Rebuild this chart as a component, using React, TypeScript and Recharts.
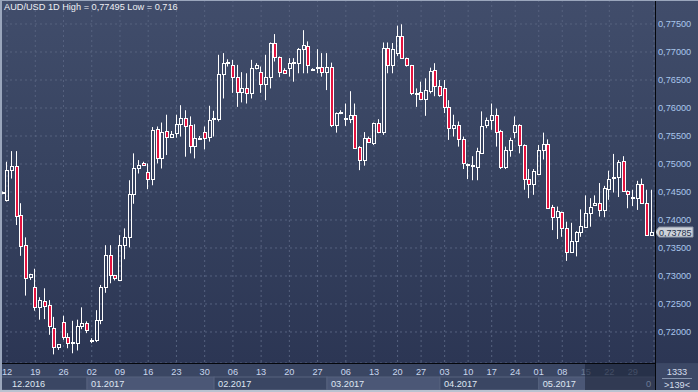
import React from "react";
import { ComposedChart, Bar, Line, XAxis, YAxis, CartesianGrid, ReferenceLine } from "recharts";

// daily candles, AUD/USD, 139 bars visible
const OPEN = [
  0.7448, 0.7436, 0.7489, 0.7496, 0.7409, 0.7355, 0.7298, 0.728, 0.7245, 0.7255,
  0.7248, 0.7208, 0.7174, 0.7217, 0.7191, 0.7181, 0.7181, 0.721, 0.7216, 0.7184,
  0.7185, 0.7221, 0.728, 0.7337, 0.7301, 0.7292, 0.7355, 0.7369, 0.7446, 0.7492,
  0.7502, 0.7485, 0.7474, 0.7562, 0.751, 0.7559, 0.7549, 0.7556, 0.7571, 0.7582,
  0.757, 0.7533, 0.7546, 0.7557, 0.7549, 0.758, 0.7581, 0.766, 0.768, 0.7676,
  0.7656, 0.7629, 0.7635, 0.7626, 0.7672, 0.7664, 0.7643, 0.7655, 0.7716, 0.7691,
  0.7668, 0.7671, 0.7681, 0.7681, 0.7705, 0.7711, 0.7669, 0.7672, 0.7674, 0.7664,
  0.7673, 0.7569, 0.7591, 0.7583, 0.7581, 0.7587, 0.7531, 0.7507, 0.7546, 0.7537,
  0.7573, 0.7558, 0.7707, 0.7676, 0.7698, 0.7729, 0.7689, 0.7676, 0.7625, 0.7628,
  0.7616, 0.7631, 0.7667, 0.7639, 0.7635, 0.7602, 0.7564, 0.757, 0.7544, 0.7499,
  0.7499, 0.7495, 0.7519, 0.7569, 0.7579, 0.7588, 0.7559, 0.7495, 0.7525, 0.7558,
  0.757, 0.7534, 0.7474, 0.7464, 0.7482, 0.7525, 0.7536, 0.7424, 0.7406, 0.7414,
  0.7385, 0.7342, 0.7363, 0.7378, 0.7388, 0.7412, 0.7426, 0.7431, 0.7418, 0.7455,
  0.7476, 0.7477, 0.7505, 0.7452, 0.7441, 0.7439, 0.7464, 0.743, 0.7374,
];
const HIGH = [
  0.7451, 0.7504, 0.7523, 0.7523, 0.743, 0.7369, 0.7304, 0.7313, 0.7262, 0.7278,
  0.7257, 0.7227, 0.7178, 0.7229, 0.7198, 0.722, 0.7222, 0.7244, 0.7219, 0.7189,
  0.7239, 0.7284, 0.7355, 0.7355, 0.7302, 0.7373, 0.7385, 0.7471, 0.7519, 0.7507,
  0.7504, 0.7501, 0.7566, 0.7567, 0.7574, 0.7588, 0.7559, 0.7588, 0.7605, 0.7596,
  0.7585, 0.7571, 0.755, 0.7567, 0.7604, 0.7595, 0.7695, 0.7698, 0.7687, 0.7686,
  0.7677, 0.7664, 0.7662, 0.7686, 0.768, 0.7674, 0.7695, 0.7717, 0.7732, 0.7692,
  0.7671, 0.7689, 0.7689, 0.7707, 0.7739, 0.7719, 0.7671, 0.7705, 0.7698, 0.7698,
  0.7681, 0.7592, 0.7596, 0.7608, 0.763, 0.7608, 0.7532, 0.7557, 0.7549, 0.7574,
  0.758, 0.7717, 0.7717, 0.7716, 0.7747, 0.77495, 0.769, 0.7677, 0.7635, 0.7647,
  0.7653, 0.7672, 0.768, 0.765, 0.765, 0.7614, 0.7588, 0.7576, 0.7549, 0.7501,
  0.7514, 0.7529, 0.7594, 0.7583, 0.7608, 0.7599, 0.7561, 0.7531, 0.7547, 0.7585,
  0.7571, 0.7535, 0.7491, 0.7491, 0.7534, 0.7556, 0.7544, 0.7427, 0.7424, 0.7415,
  0.7397, 0.7395, 0.738, 0.7419, 0.7444, 0.7439, 0.7444, 0.7466, 0.7461, 0.7488,
  0.7518, 0.7507, 0.7514, 0.7453, 0.7454, 0.747, 0.7474, 0.7454, 0.7454,
];
const LOW = [
  0.7446, 0.7433, 0.7474, 0.7391, 0.7336, 0.7265, 0.7293, 0.7238, 0.7222, 0.7223,
  0.7195, 0.716, 0.7168, 0.7186, 0.7171, 0.7162, 0.7167, 0.7205, 0.7198, 0.718,
  0.7182, 0.7214, 0.727, 0.7287, 0.7292, 0.7291, 0.733, 0.7351, 0.7429, 0.7483,
  0.7497, 0.7455, 0.7462, 0.7501, 0.7492, 0.7516, 0.7548, 0.7547, 0.7549, 0.7513,
  0.7519, 0.751, 0.7543, 0.7526, 0.754, 0.7549, 0.7576, 0.7617, 0.7674, 0.7627,
  0.7602, 0.761, 0.7608, 0.7617, 0.7669, 0.7627, 0.7614, 0.7635, 0.7683, 0.7655,
  0.7662, 0.7656, 0.7647, 0.7662, 0.7662, 0.7662, 0.7668, 0.7662, 0.7656, 0.7632,
  0.7566, 0.7556, 0.7589, 0.7568, 0.7573, 0.7528, 0.7489, 0.7497, 0.7538, 0.7534,
  0.7555, 0.7552, 0.7662, 0.7662, 0.7693, 0.7689, 0.7674, 0.7623, 0.7602, 0.7614,
  0.7586, 0.7626, 0.7621, 0.762, 0.7591, 0.7543, 0.7549, 0.7531, 0.7491, 0.7473,
  0.7471, 0.7471, 0.7519, 0.7564, 0.7561, 0.7531, 0.7491, 0.7491, 0.7513, 0.7546,
  0.7519, 0.7454, 0.7439, 0.7445, 0.7481, 0.7508, 0.7421, 0.7382, 0.7366, 0.737,
  0.7327, 0.7341, 0.7335, 0.737, 0.7387, 0.7388, 0.7425, 0.7406, 0.7405, 0.7436,
  0.7449, 0.7441, 0.7451, 0.7421, 0.7425, 0.7418, 0.7429, 0.7372, 0.7372,
];
const CLOSE = [
  0.745, 0.7489, 0.7496, 0.7408, 0.7354, 0.7296, 0.7304, 0.7245, 0.7257, 0.7247,
  0.721, 0.7174, 0.7178, 0.7191, 0.718, 0.7182, 0.721, 0.7216, 0.7204, 0.7185,
  0.7221, 0.728, 0.7337, 0.7301, 0.7296, 0.7355, 0.7369, 0.7446, 0.7492, 0.7498,
  0.7498, 0.7473, 0.756, 0.751, 0.7558, 0.7549, 0.7554, 0.7571, 0.7582, 0.7568,
  0.7533, 0.7546, 0.7547, 0.7547, 0.7579, 0.7582, 0.766, 0.7681, 0.7682, 0.7656,
  0.7629, 0.7635, 0.7626, 0.7672, 0.7677, 0.7643, 0.7655, 0.7716, 0.7691, 0.7665,
  0.7663, 0.7681, 0.7682, 0.7705, 0.7713, 0.7677, 0.767, 0.7674, 0.7664, 0.7674,
  0.7569, 0.7591, 0.7593, 0.7582, 0.7588, 0.7529, 0.7507, 0.7546, 0.754, 0.7574,
  0.7558, 0.7707, 0.7676, 0.7705, 0.7729, 0.7689, 0.7676, 0.7626, 0.7627, 0.7616,
  0.7632, 0.7666, 0.7639, 0.7623, 0.7602, 0.7564, 0.757, 0.7544, 0.7502, 0.75,
  0.7498, 0.7523, 0.7568, 0.7579, 0.7588, 0.7558, 0.7495, 0.7525, 0.7543, 0.757,
  0.7534, 0.7474, 0.7464, 0.7488, 0.7525, 0.7536, 0.7422, 0.7406, 0.7416, 0.7385,
  0.7342, 0.7363, 0.7379, 0.7389, 0.7412, 0.7424, 0.7431, 0.7418, 0.7458, 0.7474,
  0.7477, 0.7504, 0.7452, 0.7446, 0.7439, 0.7464, 0.743, 0.7374, 0.73785,
];

const PRICE_TICKS = [0.72, 0.725, 0.73, 0.735, 0.74, 0.745, 0.75, 0.755, 0.76, 0.765, 0.77, 0.775];
const Y_DOMAIN = [0.714464, 0.779286];

// candle numbers (1-based) carrying a date label, and the labels
const DATE_TICKS = [2, 8, 14, 20, 26, 32, 38, 44, 50, 56, 62, 68, 74, 80, 85, 90, 95, 100, 105, 110, 115, 120, 125, 130, 135];
const DATE_LABELS = ["12", "19", "26", "02", "09", "16", "23", "30", "06", "13", "20", "27", "06", "13", "20", "27", "03", "10", "17", "24", "01", "08", "15", "22", "29"];
const DIM_FROM = 125;

const MONTH_STARTS = [1, 19, 46, 70, 94, 115];
const MONTH_LABELS = ["12.2016", "01.2017", "02.2017", "03.2017", "04.2017", "05.2017"];

const LAST = 0.73785;

const data = OPEN.map((o, k) => ({
  i: k + 1,
  o,
  h: HIGH[k],
  l: LOW[k],
  c: CLOSE[k],
  range: [LOW[k], HIGH[k]],
}));

const W = 698;
const H = 392;
const PLOT_W = 654;
const PLOT_H = 363;
const PITCH = PLOT_W / data.length;
const FONT = "'Liberation Sans', Arial, sans-serif";
const FS = 9.2;
const RED = "#e3133f";

function Candle(props: any) {
  const { x, y, width, height, payload } = props;
  const { o, h, l, c } = payload;
  if (!(height > 0)) return null;
  const k = height / (h - l);
  const py = (v: number) => y + (h - v) * k;
  const n = Math.floor(x + width / 2);
  const wx = n + 0.5;
  const up = c >= o;
  const t = Math.round(py(Math.max(o, c))) + 0.5;
  let b = Math.round(py(Math.min(o, c))) + 0.5;
  if (b - t < 1) b = t + 1;
  return (
    <g>
      <line x1={wx} x2={wx} y1={py(h)} y2={t} stroke="#fff" strokeWidth={1} />
      <line x1={wx} x2={wx} y1={b} y2={py(l)} stroke="#fff" strokeWidth={1} />
      <rect x={n - 0.5} y={t} width={3} height={b - t} fill={up ? "none" : RED} stroke="#fff" strokeWidth={1} />
    </g>
  );
}

function DateTick(props: any) {
  const { x, y, payload } = props;
  const k = DATE_TICKS.indexOf(payload.value);
  if (k < 0) return null;
  const dim = payload.value >= DIM_FROM;
  return (
    <text x={x} y={y + 11.5} textAnchor="middle" fontSize={FS} fontFamily={FONT} fill={dim ? "#6c7a96" : "#c9d7ee"}>
      {DATE_LABELS[k]}
    </text>
  );
}

function MonthTick(props: any) {
  const { x, y, payload } = props;
  const k = MONTH_STARTS.indexOf(payload.value);
  if (k < 0) return null;
  const next = k + 1 < MONTH_STARTS.length ? MONTH_STARTS[k + 1] : data.length + 1;
  const x0 = k === 0 ? 0 : x;
  const x1 = x + (next - payload.value) * PITCH;
  const light = k % 2 === 1;
  return (
    <g>
      <rect x={x0} y={y} width={x1 - x0} height={13} fill={light ? "#4b5776" : "#3a4663"} stroke="#56627f" strokeWidth={1} />
      <text x={k === 0 ? 12 : x + 4} y={y + 10} fontSize={FS} fontFamily={FONT} fill="#dfe6f2">
        {MONTH_LABELS[k]}
      </text>
    </g>
  );
}

function PriceTag(props: any) {
  const vb = props.viewBox || {};
  const x0 = (vb.x || 0) + (vb.width || 0) + 1;
  const yc = vb.y || 0;
  return (
    <g>
      <polygon
        points={`${x0},${yc} ${x0 + 4},${yc - 5} ${x0 + 38},${yc - 5} ${x0 + 38},${yc + 5} ${x0 + 4},${yc + 5}`}
        fill="#cdd2da"
        stroke="#8c95a6"
        strokeWidth={1}
      />
      <text x={x0 + 4} y={yc + 3.5} fontSize={9} fontFamily={FONT} fill="#24304a">
        {LAST.toFixed(5).replace(".", ",")}
      </text>
    </g>
  );
}

export default function App() {
  const grad = "linear-gradient(180deg, #414d6b 0%, #36425f 50%, #2c3654 100%)";
  return (
    <div style={{ position: "absolute", left: 0, top: 0, width: W, height: H, background: "#3a4663", overflow: "hidden", fontFamily: FONT }}>
      <div style={{ position: "absolute", left: 0, top: 0, width: 655, height: PLOT_H, background: grad }} />
      <div style={{ position: "absolute", left: 656, top: 0, width: 42, height: PLOT_H, background: grad }} />

      <ComposedChart
        width={W}
        height={H}
        data={data}
        margin={{ top: 0, right: 0, bottom: 0, left: 0 }}
        barCategoryGap={0}
        style={{ position: "absolute", left: 0, top: 0 }}
      >
        <CartesianGrid stroke="#56627f" strokeDasharray="2 3" />
        <XAxis
          dataKey="i"
          ticks={DATE_TICKS}
          interval={0}
          height={14}
          axisLine={false}
          tickLine={false}
          tickSize={0}
          tickMargin={0}
          tick={<DateTick />}
        />
        <XAxis
          xAxisId="m"
          dataKey="i"
          ticks={MONTH_STARTS}
          interval={0}
          height={15}
          axisLine={false}
          tickLine={false}
          tickSize={0}
          tickMargin={0}
          tick={<MonthTick />}
        />
        <YAxis
          orientation="right"
          width={44}
          domain={Y_DOMAIN}
          allowDataOverflow
          ticks={PRICE_TICKS}
          axisLine={false}
          tickLine={false}
          tickSize={0}
          tickMargin={4}
          tick={{ fill: "#a9c6ec", fontSize: FS, fontFamily: FONT, textAnchor: "start" }}
          tickFormatter={(v: number) => v.toFixed(5).replace(".", ",")}
        />
        <Bar dataKey="range" shape={Candle} isAnimationActive={false} barSize={4} />
        <Line xAxisId="m" dataKey="c" stroke="none" dot={false} activeDot={false} isAnimationActive={false} legendType="none" />
        <ReferenceLine y={LAST} stroke="none" ifOverflow="visible" label={<PriceTag />} />
      </ComposedChart>

      {/* frame and separators */}
      <div style={{ position: "absolute", left: 0, top: PLOT_H, width: 655, height: 1, background: "#05070c" }} />
      <div style={{ position: "absolute", left: 655, top: 0, width: 1, height: H, background: "#05070c" }} />
      <div style={{ position: "absolute", left: 585, top: PLOT_H + 1, width: 70, height: 27, background: "rgba(18,25,42,0.45)" }} />
      <div style={{ position: "absolute", left: 0, top: 0, width: 2, height: H, background: "#9aa6bc" }} />
      <div style={{ position: "absolute", left: 0, top: 0, width: W, height: 1, background: "#9aa6bc" }} />
      <div style={{ position: "absolute", left: 0, top: H - 2, width: W, height: 2, background: "#b9c2d0" }} />

      <div style={{ position: "absolute", left: 4, top: 1, fontSize: FS, color: "#eef0f4", whiteSpace: "nowrap", lineHeight: "12px" }}>
        AUD/USD 1D High = 0,77495 Low = 0,716
      </div>

      <div style={{ position: "absolute", left: 646, top: 378, fontSize: FS, color: "#6c7a96", lineHeight: "12px" }}>0</div>

      <div style={{ position: "absolute", left: 656, top: 364, width: 42, height: 26, background: "#3c4866" }} />
      <div style={{ position: "absolute", left: 656, top: 366, width: 42, textAlign: "center", fontSize: FS, color: "#d6deec", lineHeight: "12px" }}>1333</div>
      <div style={{ position: "absolute", left: 662, top: 378, width: 30, height: 1, background: "#8795ae" }} />
      <div style={{ position: "absolute", left: 656, top: 379, width: 42, textAlign: "center", fontSize: FS, color: "#d6deec", lineHeight: "12px" }}>&gt;139&lt;</div>
    </div>
  );
}
